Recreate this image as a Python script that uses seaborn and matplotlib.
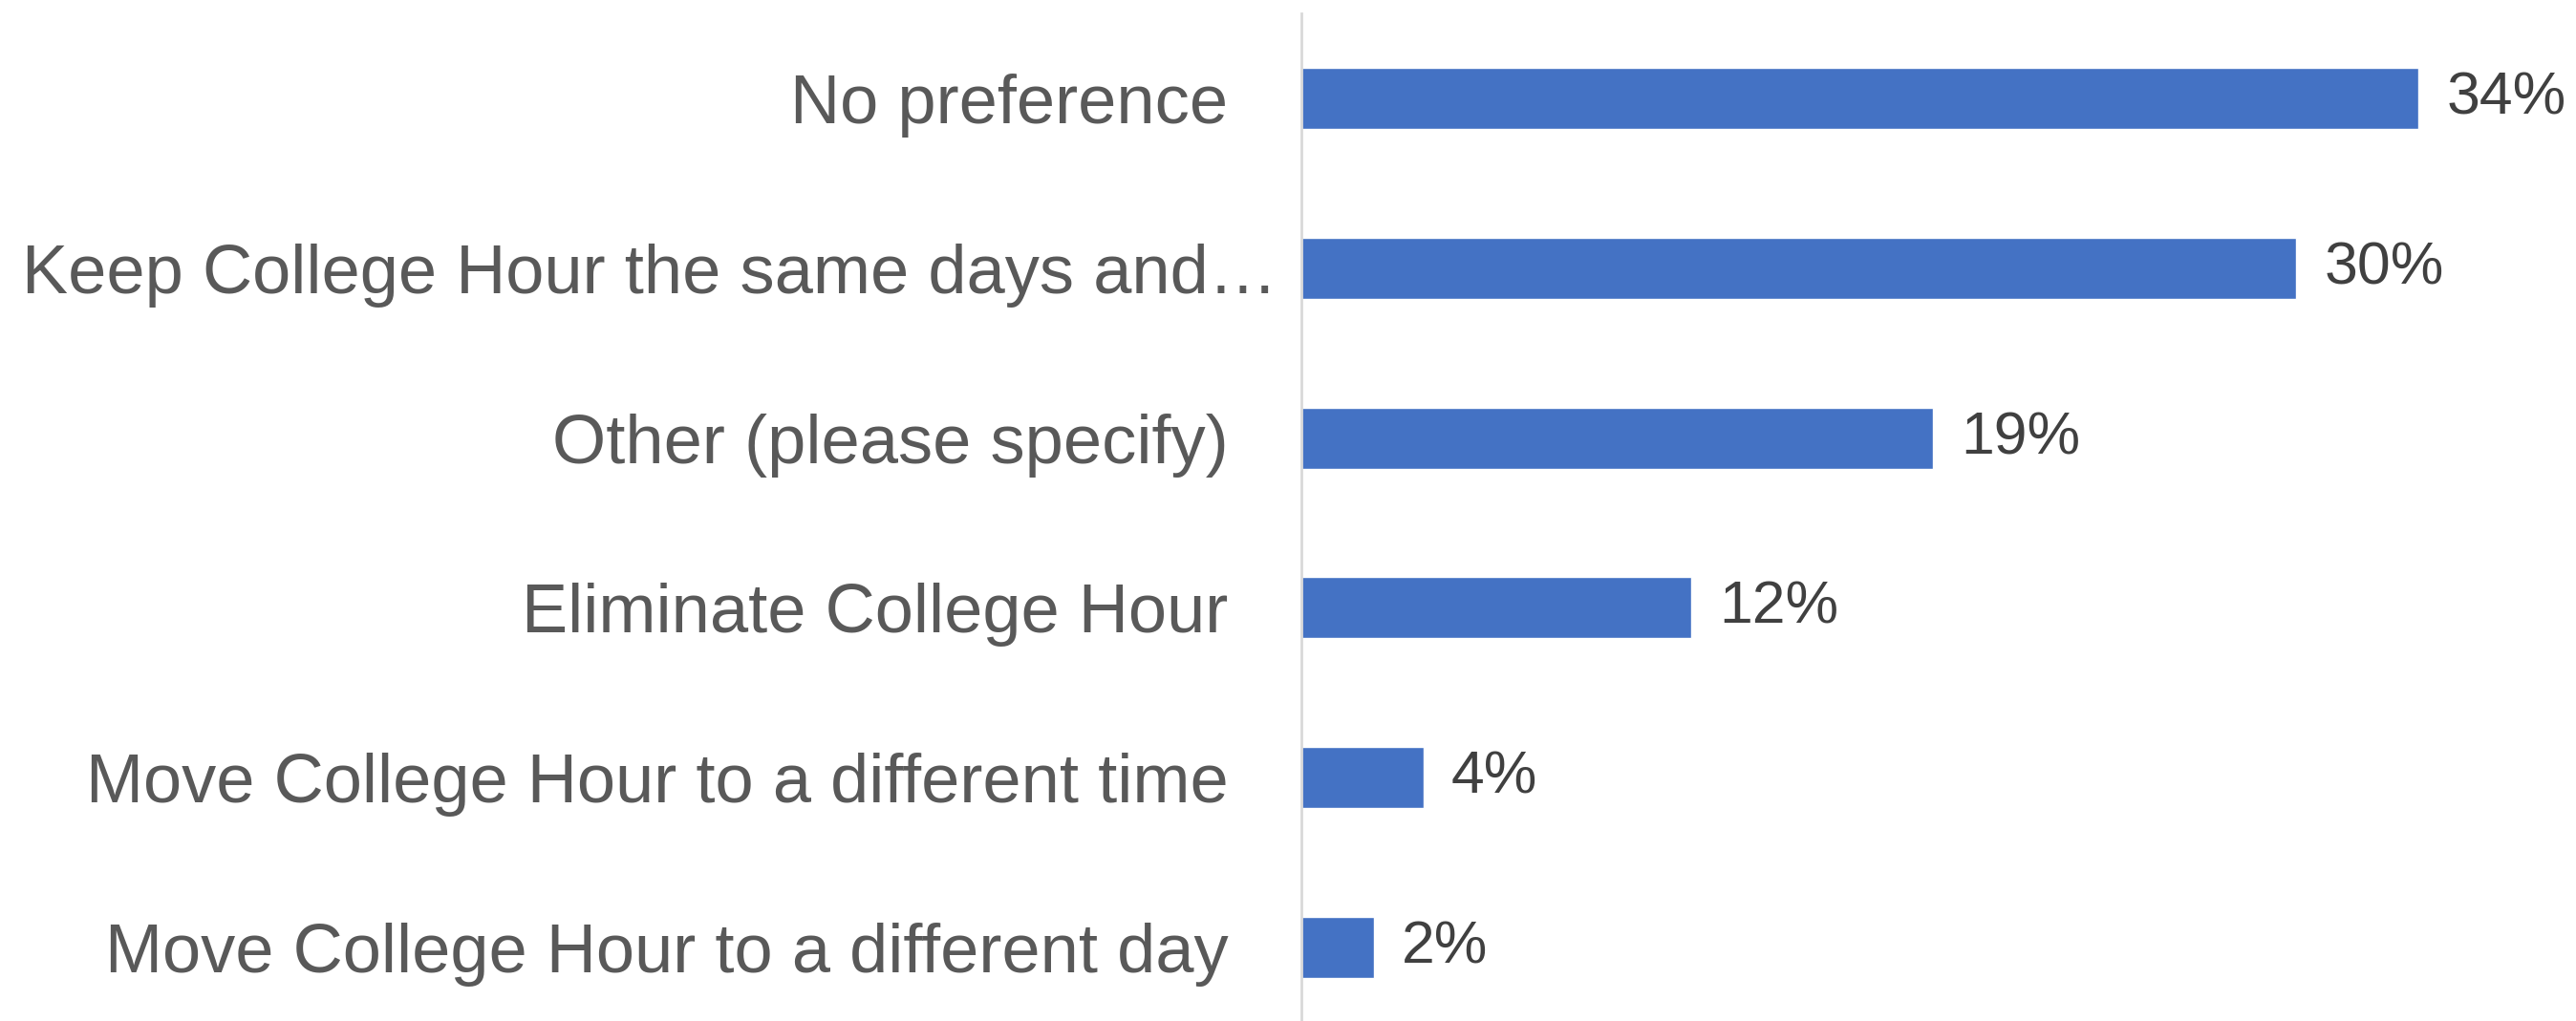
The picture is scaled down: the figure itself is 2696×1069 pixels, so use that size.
import matplotlib
matplotlib.use("Agg")
import matplotlib.pyplot as plt
import seaborn as sns
import pandas as pd

categories = [
    "No preference",
    "Keep College Hour the same days and\u2026",
    "Other (please specify)",
    "Eliminate College Hour",
    "Move College Hour to a different time",
    "Move College Hour to a different day",
]
values = [33.8, 30.1, 19.1, 11.8, 3.7, 2.2]

sns.set_theme(style="white")
FONT = ["Liberation Sans", "DejaVu Sans"]
plt.rcParams["font.family"] = FONT

W, H = 2696, 1069
fig = plt.figure(figsize=(W / 100, H / 100), dpi=100)
fig.patch.set_facecolor("white")

xmax = 38.0
ppx = 34.6  # px per percent
left_px = 1362
top_px = 14
bottom_px = 1081
ax = fig.add_axes([left_px / W, (H - bottom_px) / H,
                   xmax * ppx / W, (bottom_px - top_px) / H])

df = pd.DataFrame({"cat": categories, "val": values})
sns.barplot(data=df, x="val", y="cat", orient="h", color="#4472C4",
            saturation=1, width=0.36, ax=ax)

ax.set_xlim(0, xmax)
ax.set_ylim(5.5, -0.5)
ax.set_xlabel("")
ax.set_ylabel("")
ax.set_xticks([])

for s in ["top", "right", "bottom"]:
    ax.spines[s].set_visible(False)
ax.spines["left"].set_color("#D9D9D9")
ax.spines["left"].set_linewidth(2)

ax.tick_params(axis="y", length=0, labelsize=52, labelcolor="#595959")
pads = [55, 18, 55, 55, 55, 55]
for t, p in zip(ax.yaxis.get_major_ticks(), pads):
    t.set_pad(p)

for i, v in enumerate(values):
    ax.text(v + 29 / ppx, i, f"{v:.0f}%", va="center", ha="left",
            fontsize=45, color="#404040", family=FONT)

fig.savefig("out.png", dpi=100, facecolor="white")
